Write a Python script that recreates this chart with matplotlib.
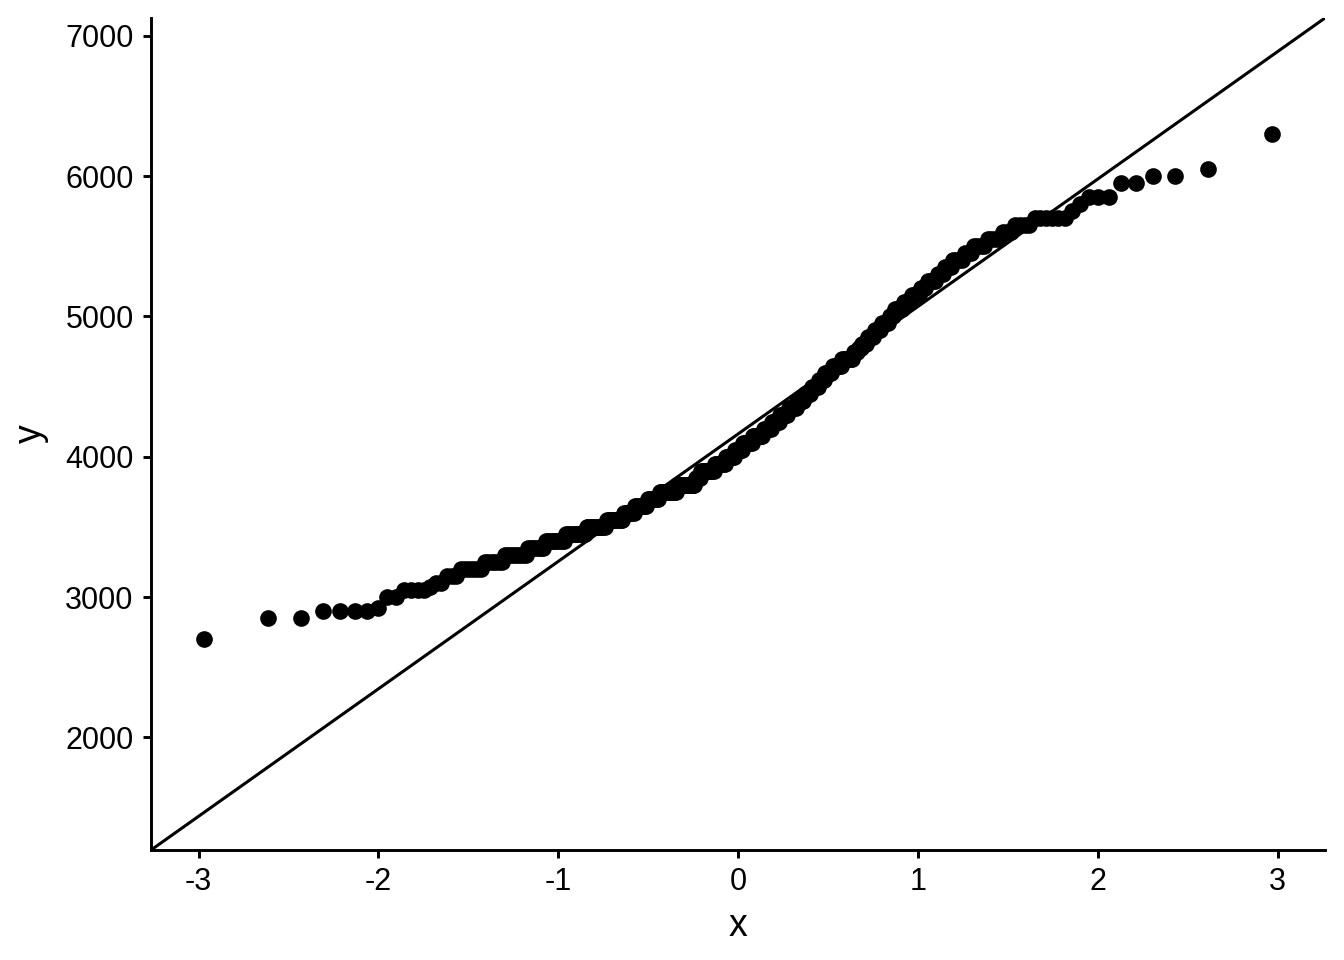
import numpy as np
import matplotlib
matplotlib.use("Agg")
import matplotlib.pyplot as plt
from statistics import NormalDist

# body mass values (sample) and how many times each occurs
mass_values = [2700, 2850, 2900, 2925, 3000, 3050, 3075, 3100, 3150, 3200,
               3250, 3300, 3350, 3400, 3450, 3500, 3550, 3600, 3650, 3700,
               3750, 3800, 3850, 3900, 3950, 4000, 4050, 4100, 4150, 4200,
               4250, 4300, 4350, 4400, 4450, 4500, 4550, 4600, 4650, 4700,
               4750, 4775, 4800, 4850, 4900, 4950, 5000, 5050, 5100, 5150,
               5200, 5250, 5300, 5350, 5400, 5450, 5500, 5550, 5600, 5650,
               5700, 5750, 5800, 5850, 5950, 6000, 6050, 6300]
mass_counts = [1, 2, 4, 1, 2, 4, 1, 2, 3, 6,
               6, 8, 7, 9, 10, 11, 10, 7, 8, 8,
               12, 13, 4, 10, 8, 7, 6, 7, 8, 6,
               6, 6, 6, 5, 5, 5, 4, 5, 6, 7,
               3, 2, 3, 4, 4, 4, 3, 4, 4, 4,
               3, 4, 3, 3, 4, 3, 4, 4, 3, 4,
               6, 1, 1, 3, 2, 2, 1, 1]

x_ticks = [-3, -2, -1, 0, 1, 2, 3]
y_ticks = [2000, 3000, 4000, 5000, 6000, 7000]

# sample and theoretical quantiles (like stat_qq)
y = np.repeat(mass_values, mass_counts)
n = len(y)
nd = NormalDist()
probs = (np.arange(1, n + 1) - 0.5) / n
x = np.array([nd.inv_cdf(p) for p in probs])

# qq line through the quartiles
q1, q3 = np.percentile(y, [25, 75])
z1, z3 = nd.inv_cdf(0.25), nd.inv_cdf(0.75)
slope = (q3 - q1) / (z3 - z1)
intercept = q1 - slope * z1

plt.rcParams['font.family'] = ['Liberation Sans', 'DejaVu Sans']

fig = plt.figure(figsize=(6.72, 4.8), dpi=200)
ax = fig.add_axes([0.1124, 0.1146, 0.8735, 0.8667])

ax.scatter(x, y, s=36, color='black', linewidths=0, zorder=3)
ax.axline((0, intercept), slope=slope, color='black', lw=1.1, zorder=2)

# limits with 5% expansion of data and line ranges
xmin, xmax = x.min(), x.max()
ymin = min(y.min(), intercept + slope * xmin)
ymax = max(y.max(), intercept + slope * xmax)
dx = (xmax - xmin) * 0.05
dy = (ymax - ymin) * 0.05
ax.set_xlim(xmin - dx, xmax + dx)
ax.set_ylim(ymin - dy, ymax + dy)

ax.set_xticks(x_ticks)
ax.set_xticklabels([str(t) for t in x_ticks])
ax.set_yticks(y_ticks)
ax.set_yticklabels([str(t) for t in y_ticks])

for side in ['top', 'right']:
    ax.spines[side].set_visible(False)
for side in ['left', 'bottom']:
    ax.spines[side].set_linewidth(1.05)
ax.tick_params(width=1.05, length=2.75, labelsize=11, pad=3.5, colors='black')

ax.set_xlabel('x', fontsize=13.5, labelpad=4)
ax.set_ylabel('y', fontsize=13.5, labelpad=6)

fig.savefig('out.png', dpi=200)
